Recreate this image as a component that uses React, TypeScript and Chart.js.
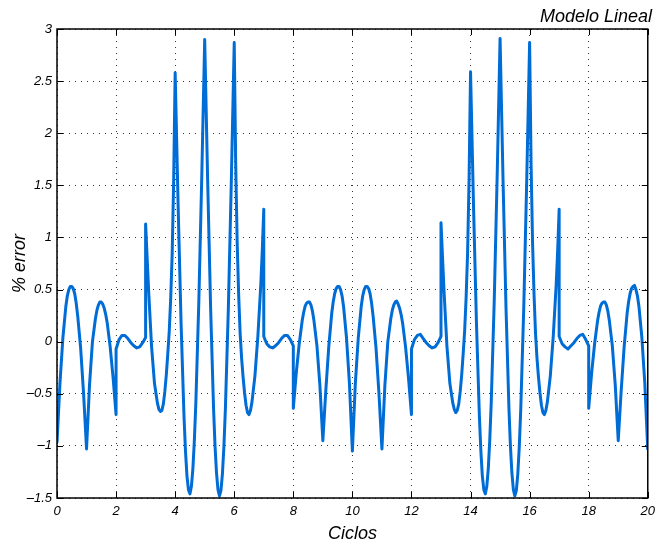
import { useEffect, useRef } from "react";
import { Chart, registerables } from "chart.js";

Chart.register(...registerables);

// Error curve, first ten cycles (x = ciclos, y = % error)
const ciclosA = [
  0, 0.1, 0.2, 0.3, 0.35, 0.4, 0.45, 0.5, 0.55, 0.6, 0.65, 0.7, 0.8, 0.9, 1,
  1.1, 1.2, 1.3, 1.35, 1.4, 1.45, 1.5, 1.55, 1.6, 1.65, 1.7, 1.8, 1.9, 2,
  2, 2.1, 2.2, 2.3, 2.4, 2.5, 2.6, 2.7, 2.8, 2.9, 3, 3,
  3.1, 3.2, 3.3, 3.4, 3.45, 3.5, 3.55, 3.6, 3.65, 3.7, 3.75, 3.8, 3.85, 3.9, 3.95, 4,
  4.1, 4.2, 4.3, 4.35, 4.4, 4.45, 4.5, 4.55, 4.6, 4.65, 4.7, 4.8, 4.9, 5,
  5.1, 5.2, 5.3, 5.35, 5.4, 5.45, 5.5, 5.55, 5.6, 5.65, 5.7, 5.8, 5.9, 6,
  6.05, 6.1, 6.15, 6.2, 6.25, 6.3, 6.35, 6.4, 6.45, 6.5, 6.55, 6.6, 6.7, 6.8, 6.9, 6.95, 7,
  7, 7.1, 7.2, 7.3, 7.4, 7.5, 7.6, 7.7, 7.8, 7.9, 8, 8,
  8.1, 8.2, 8.3, 8.35, 8.4, 8.45, 8.5, 8.55, 8.6, 8.65, 8.7, 8.8, 8.9, 9,
  9.1, 9.2, 9.3, 9.35, 9.4, 9.45, 9.5, 9.55, 9.6, 9.65, 9.7, 9.8, 9.9, 10,
];
const errorA = [
  -0.97, -0.4, 0.04, 0.34, 0.44, 0.5, 0.53, 0.53, 0.51, 0.46, 0.37, 0.25, -0.06, -0.5, -1.03,
  -0.42, 0.0, 0.22, 0.3, 0.35, 0.38, 0.38, 0.36, 0.32, 0.26, 0.18, -0.05, -0.35, -0.7,
  -0.07, 0.02, 0.06, 0.06, 0.03, -0.01, -0.04, -0.06, -0.05, -0.01, 0.04, 1.13,
  0.5, -0.04, -0.4, -0.59, -0.65, -0.67, -0.66, -0.6, -0.48, -0.32, -0.12, 0.1, 0.42, 0.85, 1.55, 2.58,
  1.31, 0.18, -0.72, -1.05, -1.29, -1.42, -1.46, -1.39, -1.22, -0.95, -0.59, 0.37, 1.57, 2.9,
  1.55, 0.33, -0.64, -1.0, -1.26, -1.42, -1.48, -1.43, -1.27, -1.01, -0.65, 0.31, 1.52, 2.87,
  1.7, 0.95, 0.45, 0.08, -0.16, -0.34, -0.49, -0.61, -0.68, -0.7, -0.66, -0.58, -0.33, 0.05, 0.55, 0.88, 1.27,
  0.05, -0.02, -0.05, -0.06, -0.04, -0.01, 0.03, 0.06, 0.06, 0.02, -0.04, -0.64,
  -0.3, -0.02, 0.2, 0.28, 0.34, 0.37, 0.38, 0.38, 0.35, 0.29, 0.2, -0.04, -0.42, -0.95,
  -0.47, -0.05, 0.27, 0.38, 0.46, 0.51, 0.53, 0.53, 0.5, 0.44, 0.34, 0.04, -0.4, -1.05,
];

// Error curve, cycles ten to twenty
const ciclosB = [
  10.1, 10.2, 10.3, 10.35, 10.4, 10.45, 10.5, 10.55, 10.6, 10.65, 10.7, 10.8, 10.9, 11,
  11.1, 11.2, 11.3, 11.35, 11.4, 11.45, 11.5, 11.55, 11.6, 11.65, 11.7, 11.8, 11.9, 12,
  12, 12.1, 12.2, 12.3, 12.4, 12.5, 12.6, 12.7, 12.8, 12.9, 13, 13,
  13.1, 13.2, 13.3, 13.4, 13.45, 13.5, 13.55, 13.6, 13.65, 13.7, 13.75, 13.8, 13.85, 13.9, 13.95, 14,
  14.1, 14.2, 14.3, 14.35, 14.4, 14.45, 14.5, 14.55, 14.6, 14.65, 14.7, 14.8, 14.9, 15,
  15.1, 15.2, 15.3, 15.35, 15.4, 15.45, 15.5, 15.55, 15.6, 15.65, 15.7, 15.8, 15.9, 16,
  16.05, 16.1, 16.15, 16.2, 16.25, 16.3, 16.35, 16.4, 16.45, 16.5, 16.55, 16.6, 16.7, 16.8, 16.9, 16.95, 17,
  17, 17.1, 17.2, 17.3, 17.4, 17.5, 17.6, 17.7, 17.8, 17.9, 18, 18,
  18.1, 18.2, 18.3, 18.35, 18.4, 18.45, 18.5, 18.55, 18.6, 18.65, 18.7, 18.8, 18.9, 19,
  19.1, 19.2, 19.3, 19.35, 19.4, 19.45, 19.5, 19.55, 19.6, 19.65, 19.7, 19.8, 19.9, 20,
];
const errorB = [
  -0.4, 0.04, 0.34, 0.44, 0.5, 0.53, 0.53, 0.51, 0.46, 0.37, 0.25, -0.06, -0.5, -1.03,
  -0.42, 0.0, 0.22, 0.3, 0.35, 0.38, 0.39, 0.36, 0.32, 0.26, 0.18, -0.05, -0.35, -0.7,
  -0.07, 0.02, 0.06, 0.07, 0.03, -0.01, -0.04, -0.06, -0.05, -0.01, 0.05, 1.14,
  0.5, -0.04, -0.4, -0.59, -0.65, -0.68, -0.66, -0.6, -0.48, -0.32, -0.12, 0.1, 0.42, 0.85, 1.55, 2.59,
  1.31, 0.18, -0.72, -1.05, -1.29, -1.42, -1.46, -1.39, -1.22, -0.95, -0.59, 0.37, 1.57, 2.91,
  1.55, 0.33, -0.64, -1.0, -1.26, -1.42, -1.48, -1.43, -1.27, -1.01, -0.65, 0.31, 1.52, 2.87,
  1.7, 0.95, 0.45, 0.08, -0.16, -0.34, -0.49, -0.61, -0.68, -0.7, -0.66, -0.58, -0.33, 0.05, 0.55, 0.88, 1.27,
  0.05, -0.02, -0.05, -0.07, -0.04, -0.01, 0.03, 0.06, 0.07, 0.02, -0.04, -0.64,
  -0.3, -0.02, 0.2, 0.28, 0.34, 0.37, 0.38, 0.38, 0.35, 0.29, 0.2, -0.04, -0.42, -0.95,
  -0.47, -0.05, 0.27, 0.38, 0.46, 0.51, 0.53, 0.54, 0.5, 0.44, 0.34, 0.04, -0.4, -1.04,
];

const xTicks = [0, 2, 4, 6, 8, 10, 12, 14, 16, 18, 20];
const yTicks = [-1.5, -1, -0.5, 0, 0.5, 1, 1.5, 2, 2.5, 3];

const FONT = "'Liberation Sans', Arial, Helvetica, sans-serif";

const fmt = (v: number) => {
  const s = String(Math.abs(v));
  return v < 0 ? "\u2013" + s : s;
};

// Closed axes box with short inward tick marks on all four sides
const boxTicks = {
  id: "boxTicks",
  afterDatasetsDraw(chart: any) {
    const { ctx, chartArea, scales } = chart;
    const { left, right, top, bottom } = chartArea;
    const len = 6;
    ctx.save();
    ctx.strokeStyle = "#000";
    ctx.lineWidth = 1;
    ctx.beginPath();
    for (const v of xTicks) {
      const px = Math.round(scales.x.getPixelForValue(v)) + 0.5;
      ctx.moveTo(px, bottom);
      ctx.lineTo(px, bottom - len);
      ctx.moveTo(px, top);
      ctx.lineTo(px, top + len);
    }
    for (const v of yTicks) {
      const py = Math.round(scales.y.getPixelForValue(v)) + 0.5;
      ctx.moveTo(left, py);
      ctx.lineTo(left + len, py);
      ctx.moveTo(right, py);
      ctx.lineTo(right - len, py);
    }
    ctx.stroke();
    ctx.lineWidth = 1.5;
    ctx.strokeRect(left, top, right - left, bottom - top);
    ctx.restore();
  },
};

export default function App() {
  const ref = useRef<HTMLCanvasElement | null>(null);

  useEffect(() => {
    if (!ref.current) return;
    const points = [
      ...ciclosA.map((x, i) => ({ x, y: errorA[i] })),
      ...ciclosB.map((x, i) => ({ x, y: errorB[i] })),
    ];
    const tickFont = { family: FONT, size: 13, style: "italic" as const };
    const labelFont = { family: FONT, size: 18, style: "italic" as const, weight: "normal" as const };
    const gridStyle = { color: "rgba(0,0,0,0.8)", lineWidth: 1, drawTicks: false };

    const chart = new Chart(ref.current, {
      type: "line",
      data: {
        datasets: [
          {
            data: points,
            borderColor: "rgb(0,108,214)",
            borderWidth: 3,
            borderJoinStyle: "round",
            borderCapStyle: "butt",
            pointRadius: 0,
            tension: 0,
            fill: false,
          },
        ],
      },
      options: {
        responsive: false,
        animation: false,
        events: [],
        layout: { padding: { left: 0, right: 9, top: 0, bottom: 0 } },
        plugins: {
          legend: { display: false },
          tooltip: { enabled: false },
          title: {
            display: true,
            text: "Modelo Lineal",
            align: "end",
            color: "#000",
            font: labelFont,
            padding: { top: 6, bottom: 1.4 },
          },
        },
        scales: {
          x: {
            type: "linear",
            min: 0,
            max: 20,
            afterFit: (s: any) => {
              s.height = 47;
            },
            afterBuildTicks: (s: any) => {
              s.ticks = xTicks.map((value) => ({ value }));
            },
            ticks: {
              color: "#000",
              font: tickFont,
              padding: 6,
              maxRotation: 0,
              autoSkip: false,
              callback: (v: any) => fmt(Number(v)),
            },
            grid: gridStyle,
            border: { display: false, dash: [1, 5] },
            title: {
              display: true,
              text: "Ciclos",
              color: "#000",
              font: labelFont,
              padding: { top: 0, bottom: 0.5 },
            },
          },
          y: {
            type: "linear",
            min: -1.5,
            max: 3,
            afterFit: (s: any) => {
              s.width = 57;
            },
            afterBuildTicks: (s: any) => {
              s.ticks = yTicks.map((value) => ({ value }));
            },
            ticks: {
              color: "#000",
              font: tickFont,
              padding: 5,
              autoSkip: false,
              callback: (v: any) => fmt(Number(v)),
            },
            grid: gridStyle,
            border: { display: false, dash: [1, 5] },
            title: {
              display: true,
              text: "% error",
              color: "#000",
              font: labelFont,
              padding: { top: 9, bottom: 0 },
            },
          },
        },
      },
      plugins: [boxTicks],
    });

    return () => chart.destroy();
  }, []);

  return (
    <div style={{ position: "absolute", left: 0, top: 0, width: 661, height: 545, background: "#fff" }}>
      <canvas ref={ref} width={661} height={545} />
    </div>
  );
}
